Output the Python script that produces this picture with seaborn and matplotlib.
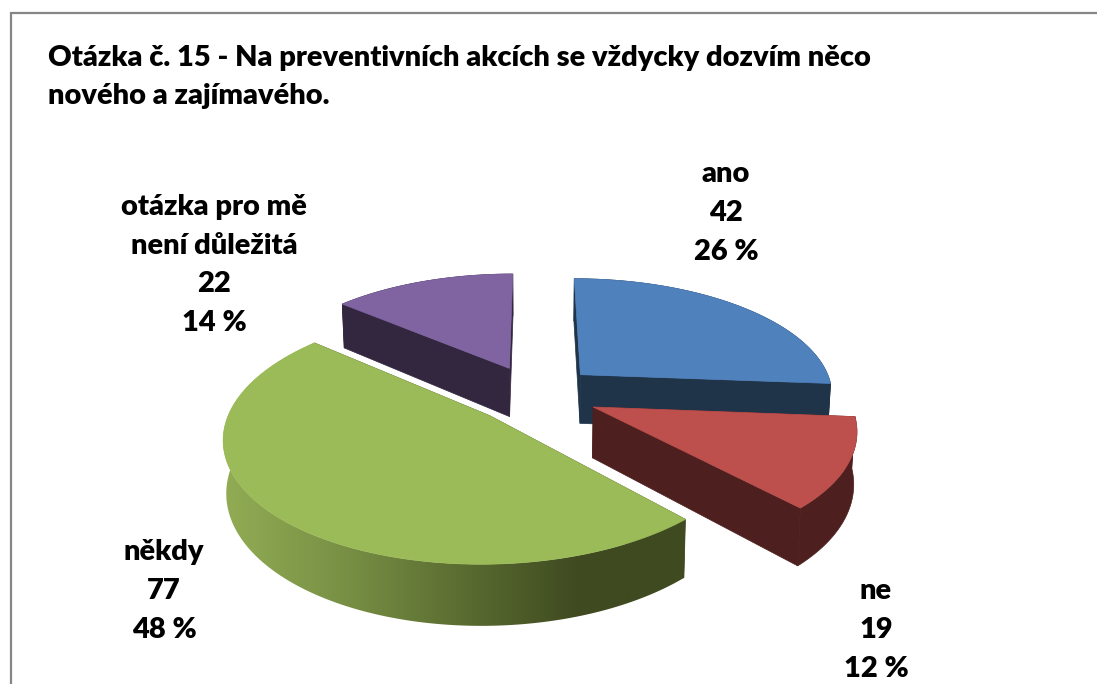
import numpy as np
import seaborn as sns
import matplotlib.pyplot as plt
from matplotlib.patches import Polygon

# data
labels = ['ano', 'ne', 'někdy', 'otázka pro mě\nnení důležitá']
counts = [42, 19, 77, 22]
percents = ['26 %', '12 %', '48 %', '14 %']
title = 'Otázka č. 15 - Na preventivních akcích se vždycky dozvím něco\nnového a zajímavého.'

top_colors = ['#4F81BD', '#BD4F4C', '#9BBB59', '#8064A2']
wall_colors = ['#1F3349', '#4D1F1E', '#3F4A20', '#33263F']
label_pos = [(726, 213), (876, 630), (164, 591), (214, 265)]

# projection settings for the tilted pie (pixels)
CX, CY = 535, 394
A, B = 254, 117
PERSP = 0.16
EXPLODE = 0.25
DEPTH = 50

sns.set_theme(style='white')
plt.rcParams['font.family'] = ['Lato', 'DejaVu Sans']


def project(x, y, drop=0.0):
    s = 1 / (1 + PERSP * y)
    sx = CX + A * x * s
    sy = CY - B * y * s
    if drop:
        sx = CX + (sx - CX) * 0.99
        sy = sy + drop * s
    return sx, sy


fig = plt.figure(figsize=(10.97, 6.84), dpi=100)
ax = fig.add_axes([0, 0, 1, 1])

# frame, only the top and left edges are in the crop
ax.plot([10.5, 10.5, 1097], [684, 12.5, 12.5], color='#868686', lw=1.6, solid_joinstyle='miter')

edges = np.cumsum([0] + counts) / sum(counts) * 2 * np.pi
green_shades = sns.blend_palette(['#93AE55', '#7A9246', '#5C6E32', '#3F4A20', '#3F4A20'], 256)

# back slices first so the front ones cover them
for i in [3, 0, 1, 2]:
    t0, t1 = edges[i], edges[i + 1]
    mid = (t0 + t1) / 2
    ox, oy = EXPLODE * np.sin(mid), EXPLODE * np.cos(mid)
    t = np.linspace(t0, t1, 160)
    x = ox + np.sin(t)
    y = oy + np.cos(t)

    # walls, extruded straight down
    for bx, by in [(x[0], y[0]), (x[-1], y[-1])]:
        p1 = project(ox, oy)
        p2 = project(bx, by)
        p3 = project(bx, by, drop=DEPTH)
        p4 = project(ox, oy, drop=DEPTH)
        ax.fill(*zip(p1, p2, p3, p4), color=wall_colors[i], lw=0.5)

    # rim
    up_x, up_y = project(x, y)
    lo_x, lo_y = project(x, y, drop=DEPTH)
    rim = np.c_[np.r_[up_x, lo_x[::-1]], np.r_[up_y, lo_y[::-1]]]
    if i == 2:
        patch = Polygon(rim, closed=True, facecolor='none', edgecolor='none')
        ax.add_patch(patch)
        # the big slice has a shaded rim, dark towards the right
        im = ax.imshow(np.array(green_shades)[None, :, :], extent=(215, 700, 684, 0),
                       aspect='auto', zorder=1)
        im.set_clip_path(patch)
    else:
        ax.fill(rim[:, 0], rim[:, 1], color=wall_colors[i], lw=0.5)

    sx, sy = project(np.r_[ox, x], np.r_[oy, y])
    ax.fill(sx, sy, color=top_colors[i], lw=0.5)

ax.set_xlim(0, 1097)
ax.set_ylim(684, 0)
ax.axis('off')

ax.text(48, 77, title, fontsize=20.85, fontweight='heavy', color='black',
        ha='left', va='center', linespacing=1.57)

for name, n, pct, (px, py) in zip(labels, counts, percents, label_pos):
    ax.text(px, py, f'{name}\n{n}\n{pct}', fontsize=20.85, fontweight='heavy', color='black',
            ha='center', va='center', linespacing=1.61)

plt.savefig('out.png', dpi=100)
